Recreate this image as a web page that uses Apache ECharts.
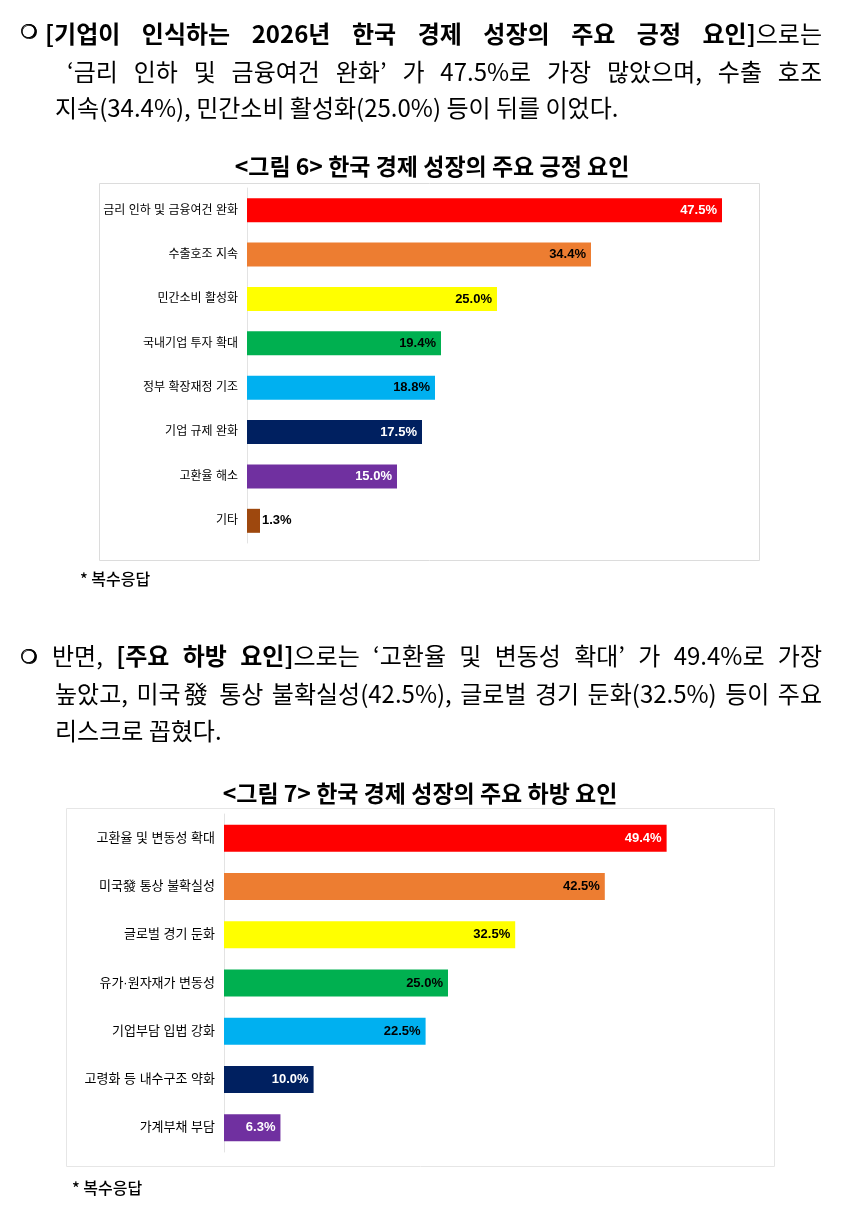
<!DOCTYPE html>
<html>
<head>
<meta charset="utf-8">
<script src="https://cdn.jsdelivr.net/npm/echarts@6/dist/echarts.min.js"></script>
<style>
	html, body { margin: 0; padding: 0; background: #fff; }
	#page { position: relative; width: 846px; height: 1217px; overflow: hidden; }
	#chart { position: absolute; left: 0; top: 0; width: 846px; height: 1217px; }
	.ln {
		position: absolute; font-family: "Noto Sans CJK KR", sans-serif; font-size: 24px;
		line-height: 36px; height: 36px; color: #000; white-space: nowrap; z-index: 2;
	}
	.just { text-align: justify; text-align-last: justify; white-space: normal; overflow: hidden; }
	.bul { font-family: "DejaVu Sans", sans-serif; font-size: 19px; text-shadow: 0.8px 0.8px 0 #000, 0.5px 0 0 #000; }
	b { font-weight: 700; }
</style>
</head>
<body>
<div id="page">
	<div id="chart"></div>
	<!-- 본문 1 -->
	<div class="ln bul" style="left:20px;top:13px;">❍</div>
	<div class="ln just" style="left:45px;top:15px;width:777px;"><b>[기업이 인식하는 2026년 한국 경제 성장의 주요 긍정 요인]</b>으로는</div>
	<div class="ln just" style="left:67px;top:53px;width:755px;">‘금리 인하 및 금융여건 완화’ 가 47.5%로 가장 많았으며, 수출 호조</div>
	<div class="ln" style="left:55px;top:89px;">지속(34.4%), 민간소비 활성화(25.0%) 등이 뒤를 이었다.</div>
	<!-- 본문 2 -->
	<div class="ln bul" style="left:20px;top:638px;">❍</div>
	<div class="ln just" style="left:52px;top:637px;width:770px;">반면, <b>[주요 하방 요인]</b>으로는 ‘고환율 및 변동성 확대’ 가 49.4%로 가장</div>
	<div class="ln just" style="left:55px;top:675px;width:767px;">높았고, 미국發 통상 불확실성(42.5%), 글로벌 경기 둔화(32.5%) 등이 주요</div>
	<div class="ln" style="left:55px;top:712px;">리스크로 꼽혔다.</div>
</div>
<script>
// 그림 6 : 긍정 요인
var posCats = ['금리 인하 및 금융여건 완화', '수출호조 지속', '민간소비 활성화', '국내기업 투자 확대', '정부 확장재정 기조', '기업 규제 완화', '고환율 해소', '기타'];
var posVals = [47.5, 34.4, 25.0, 19.4, 18.8, 17.5, 15.0, 1.3];
// 그림 7 : 하방 요인
var negCats = ['고환율 및 변동성 확대', '미국發 통상 불확실성', '글로벌 경기 둔화', '유가·원자재가 변동성', '기업부담 입법 강화', '고령화 등 내수구조 약화', '가계부채 부담'];
var negVals = [49.4, 42.5, 32.5, 25.0, 22.5, 10.0, 6.3];

var barColors = ['#FF0000', '#ED7D31', '#FFFF00', '#00B050', '#00B0F0', '#002060', '#7030A0', '#9E480E'];
var lblColors = ['#fff', '#000', '#000', '#000', '#000', '#fff', '#fff', '#000'];

//가운뎃점(·)이 좁게 나오도록 라틴 글꼴을 먼저
var catFont = '"Liberation Sans", "Noto Sans CJK KR", sans-serif';
var numFont = '"Liberation Sans Narrow", "Liberation Sans", sans-serif';

function barData(vals) {
	var out = [];
	for(var i = 0; i < vals.length; i++) {
		out.push({
			value: vals[i],
			itemStyle: { color: barColors[i] },
			label: {
				position: vals[i] < 5 ? 'right' : 'insideRight',
				distance: vals[i] < 5 ? 2 : 5,
				color: vals[i] < 5 ? '#000' : lblColors[i]
			}
		});
	}
	return out;
}

function catAxis(idx, cats, size) {
	return {
		type: 'category',
		gridIndex: idx,
		data: cats,
		inverse: true,
		axisTick: { show: false },
		axisLine: { show: true, lineStyle: { color: '#e3e3e3', width: 1 } },
		axisLabel: { color: '#000', fontSize: size, fontFamily: catFont, margin: 9 }
	};
}

function valAxis(idx) {
	return {
		type: 'value',
		gridIndex: idx,
		min: 0,
		max: 50,
		show: false,
		splitLine: { show: false }
	};
}

var myChart = echarts.init(document.getElementById('chart'), null, { renderer: 'canvas' });
var option = {
	animation: false,
	backgroundColor: '#fff',
	grid: [
		{ left: 247, top: 188, width: 500, height: 355 },
		{ left: 224, top: 814, width: 448, height: 338 }
	],
	xAxis: [valAxis(0), valAxis(1)],
	yAxis: [catAxis(0, posCats, 12), catAxis(1, negCats, 13)],
	series: [{
		name: '긍정 요인',
		type: 'bar',
		xAxisIndex: 0,
		yAxisIndex: 0,
		barWidth: 24,
		label: {
			show: true,
			formatter: function(p) { return p.value.toFixed(1) + '%'; },
			fontFamily: numFont,
			fontWeight: 'bold',
			fontSize: 13
		},
		data: barData(posVals)
	}, {
		name: '하방 요인',
		type: 'bar',
		xAxisIndex: 1,
		yAxisIndex: 1,
		barWidth: 27,
		label: {
			show: true,
			formatter: function(p) { return p.value.toFixed(1) + '%'; },
			fontFamily: numFont,
			fontWeight: 'bold',
			fontSize: 13
		},
		data: barData(negVals)
	}],
	graphic: [
		//그림 테두리
		{ type: 'rect', shape: { x: 99.5, y: 183.5, width: 660, height: 377 }, style: { fill: 'none', stroke: '#dcdcdc', lineWidth: 1 }, z: -1 },
		{ type: 'rect', shape: { x: 66.5, y: 808.5, width: 708, height: 358 }, style: { fill: 'none', stroke: '#e6e6e6', lineWidth: 1 }, z: -1 },
		//그림 제목
		{ type: 'text', x: 432, y: 166, style: { text: '<그림 6> 한국 경제 성장의 주요 긍정 요인', fill: '#000', font: 'bold 23px "Noto Sans CJK KR", sans-serif', align: 'center', verticalAlign: 'middle' } },
		{ type: 'text', x: 420, y: 793, style: { text: '<그림 7> 한국 경제 성장의 주요 하방 요인', fill: '#000', font: 'bold 23px "Noto Sans CJK KR", sans-serif', align: 'center', verticalAlign: 'middle' } },
		//주석
		{ type: 'text', x: 80, y: 579, style: { text: '* 복수응답', fill: '#000', font: '500 16px "Noto Sans CJK KR", sans-serif', verticalAlign: 'middle' } },
		{ type: 'text', x: 72, y: 1188, style: { text: '* 복수응답', fill: '#000', font: '500 16px "Noto Sans CJK KR", sans-serif', verticalAlign: 'middle' } }
	]
};
myChart.setOption(option);
window.onresize = myChart.resize;
</script>
</body>
</html>
